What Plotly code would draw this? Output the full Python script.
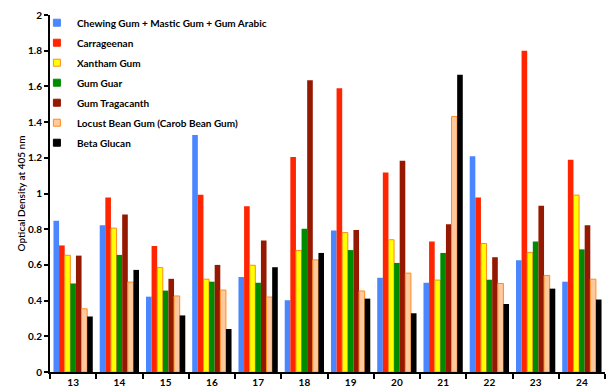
import plotly.graph_objects as go

# Sample numbers along the x axis
samples = ["13", "14", "15", "16", "17", "18", "19", "20", "21", "22", "23", "24"]

# Optical density at 405 nm for each gum / polysaccharide
chewing_mastic_arabic = [0.848, 0.822, 0.422, 1.328, 0.532, 0.402, 0.793, 0.528, 0.500, 1.209, 0.626, 0.506]
carrageenan = [0.709, 0.978, 0.706, 0.993, 0.928, 1.204, 1.589, 1.118, 0.731, 0.978, 1.800, 1.189]
xantham_gum = [0.654, 0.806, 0.585, 0.520, 0.598, 0.681, 0.781, 0.741, 0.515, 0.720, 0.670, 0.991]
gum_guar = [0.496, 0.656, 0.456, 0.506, 0.500, 0.802, 0.683, 0.611, 0.667, 0.517, 0.731, 0.687]
gum_tragacanth = [0.652, 0.883, 0.522, 0.600, 0.737, 1.635, 0.796, 1.183, 0.828, 0.643, 0.931, 0.822]
locust_bean_gum = [0.354, 0.504, 0.426, 0.459, 0.420, 0.628, 0.454, 0.554, 1.431, 0.496, 0.541, 0.520]
beta_glucan = [0.311, 0.572, 0.317, 0.241, 0.587, 0.667, 0.411, 0.329, 1.665, 0.381, 0.467, 0.406]

series = [
    ("Chewing Gum + Mastic Gum + Gum Arabic", chewing_mastic_arabic, "#4a86ff", None),
    ("Carrageenan", carrageenan, "#ff2500", None),
    ("Xantham Gum", xantham_gum, "#ffff00", "#ff8c1a"),
    ("Gum Guar", gum_guar, "#008a00", None),
    ("Gum Tragacanth", gum_tragacanth, "#951800", None),
    ("Locust Bean Gum (Carob Bean Gum)", locust_bean_gum, "#ffc9a0", "#ff8c1a"),
    ("Beta Glucan", beta_glucan, "#000000", None),
]

fig = go.Figure()
for name, values, fill, edge in series:
    fig.add_trace(go.Bar(
        name=name,
        x=samples,
        y=values,
        legendgroup=name,
        showlegend=False,
        marker=dict(
            color=fill,
            line=dict(color=edge if edge else fill, width=1 if edge else 0),
        ),
    ))
    # small square key for the legend
    fig.add_trace(go.Scatter(
        name=name,
        x=[None],
        y=[None],
        mode="markers",
        legendgroup=name,
        showlegend=True,
        marker=dict(
            symbol="square",
            size=7,
            color=fill,
            line=dict(color=edge if edge else fill, width=1),
        ),
    ))

bold = dict(family="Lato", size=10, color="black", weight="bold")

fig.update_layout(
    width=608,
    height=391,
    margin=dict(l=50, r=3, t=15, b=16),
    paper_bgcolor="white",
    plot_bgcolor="white",
    barmode="group",
    bargap=0.15,
    bargroupgap=0,
    showlegend=True,
    legend=dict(
        x=-0.0236, y=1.019, xanchor="left", yanchor="top",
        font=bold,
        bgcolor="rgba(0,0,0,0)",
        tracegroupgap=1,
        itemwidth=30,
    ),
    xaxis=dict(
        type="category",
        showline=True, linecolor="black", linewidth=2,
        ticks="outside", tickson="boundaries", ticklen=5, tickwidth=1.5, tickcolor="black",
        tickfont=bold,
        showgrid=False, zeroline=False,
    ),
    yaxis=dict(
        range=[0, 2], dtick=0.2, tick0=0,
        showline=True, linecolor="black", linewidth=2,
        ticks="outside", ticklen=4, tickwidth=1.5, tickcolor="black",
        tickfont=bold,
        showgrid=False, zeroline=False,
        title=dict(text="Optical Density at 405 nm",
                   font=dict(family="Lato", size=10, color="black", weight=600),
                   standoff=1),
    ),
)

fig.write_html("out.html")
